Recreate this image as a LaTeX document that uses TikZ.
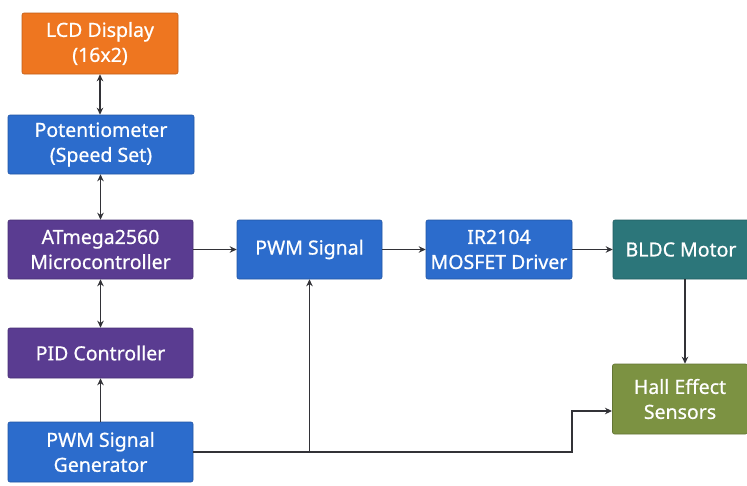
\documentclass[tikz,border=0pt]{standalone}
\usepackage{fontspec}
\setmainfont{Noto Sans}
\newfontfamily\boxfont{Noto Sans}[UprightFeatures={FakeBold=0.7}]
\usetikzlibrary{arrows.meta}
\definecolor{cOrange}{RGB}{238,118,32}
\definecolor{cBlue}{RGB}{44,108,204}
\definecolor{cPurple}{RGB}{90,60,145}
\definecolor{cTeal}{RGB}{44,118,122}
\definecolor{cOlive}{RGB}{124,146,66}
\definecolor{cLine}{RGB}{50,50,55}
\tikzset{
  box/.style={rectangle, rounded corners=2pt, draw=#1!80!black, line width=0.6pt, fill=#1,
    text=white, align=center, inner sep=2pt,
    font=\boxfont\fontsize{19.5}{25}\selectfont},
  arr/.style={draw=cLine, line width=1.2pt, -{Stealth[length=7pt,width=6.5pt]}},
  darr/.style={draw=cLine, line width=1.2pt, {Stealth[length=7pt,width=6.5pt]}-{Stealth[length=7pt,width=6.5pt]}},
  ln/.style={draw=cLine, line width=1.2pt}
}
\begin{document}
\begin{tikzpicture}[x=1pt,y=-1pt]
\useasboundingbox (0,0) rectangle (747,485);
\node[box=cOrange, minimum width=156pt, minimum height=61pt] (lcd) at (100,43.5) {LCD Display\\(16x2)};
\node[box=cBlue, minimum width=186pt, minimum height=59pt] (pot) at (101,144.5) {Potentiometer\\(Speed Set)};
\node[box=cPurple, minimum width=185pt, minimum height=59pt] (mcu) at (100.5,249.5) {ATmega2560\\Microcontroller};
\node[box=cPurple, minimum width=185pt, minimum height=50pt] (pid) at (100.5,353) {PID Controller};
\node[box=cBlue, minimum width=185pt, minimum height=60pt] (gen) at (100.5,452) {PWM Signal\\Generator};
\node[box=cBlue, minimum width=145pt, minimum height=59pt] (pwm) at (309.5,249.5) {PWM Signal};
\node[box=cBlue, minimum width=146pt, minimum height=59pt] (drv) at (499,249.5) {IR2104\\MOSFET Driver};
\node[box=cTeal, minimum width=136pt, minimum height=59pt] (motor) at (681,249.5) {BLDC Motor};
\node[box=cOlive, minimum width=135pt, minimum height=70pt] (hall) at (680,399) {Hall Effect\\Sensors};

\draw[darr] (lcd.south) -- (lcd.south |- pot.north);
\draw[darr] (mcu.north |- pot.south) -- (mcu.north);
\draw[darr] (mcu.south) -- (pid.north);
\draw[arr] (gen.north) -- (pid.south);
\draw[arr] (mcu.east) -- (pwm.west);
\draw[arr] (pwm.east) -- (drv.west);
\draw[arr] (drv.east) -- (motor.west);
\coordinate (mdown) at (685,279);
\draw[arr] (mdown) -- (mdown |- hall.north);
\coordinate (bend) at (572,452);
\coordinate (hin) at (612,411);
\draw[arr] (gen.east) -- (bend) |- (hin);
\draw[arr] (pwm.south |- gen.east) -- (pwm.south);
\end{tikzpicture}
\end{document}
